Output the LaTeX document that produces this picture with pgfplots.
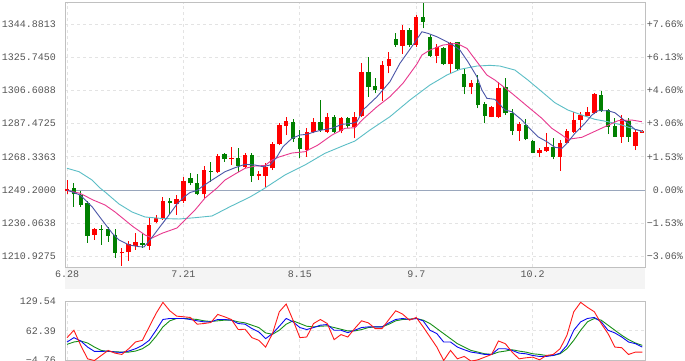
\documentclass[border=0pt]{standalone}
\usepackage{pgfplots}
\pgfplotsset{compat=1.18}
\usepackage{pgfplotstable}
\usepackage{fontspec}
\setmainfont{Liberation Mono}

\definecolor{kred}{HTML}{FF0000}
\definecolor{kgreen}{HTML}{008000}
\definecolor{maBlue}{HTML}{4A55A8}
\definecolor{maPink}{HTML}{E8388E}
\definecolor{maCyan}{HTML}{5BBEC6}
\definecolor{baseBlue}{HTML}{9AA7BD}
\definecolor{frameGray}{HTML}{C0C0C0}
\definecolor{gridGray}{HTML}{E3E3E3}
\definecolor{labelGray}{HTML}{555555}
\definecolor{bandGray}{HTML}{F4F4F4}
\definecolor{kdjRed}{HTML}{FF1A1A}
\definecolor{kdjBlue}{HTML}{0A0AF0}
\definecolor{kdjGreen}{HTML}{189018}

% rising candles (red): index open high low close
\pgfplotstableread{
i o h l c
0 1248.62 1254.96 1246.89 1249.49
4 1223.26 1227.01 1220.38 1226.72
8 1212.60 1215.48 1205.39 1213.46
9 1213.18 1219.80 1208.28 1218.07
10 1216.92 1224.41 1214.62 1219.23
12 1217.09 1233.06 1214.62 1229.03
13 1230.47 1234.79 1229.89 1233.23
14 1232.89 1244.88 1231.91 1242.69
16 1241.13 1246.32 1234.79 1243.84
17 1242.86 1256.69 1241.71 1254.56
20 1246.72 1263.03 1244.01 1260.73
22 1259.58 1270.24 1258.83 1268.80
24 1267.07 1274.16 1263.61 1267.82
26 1262.63 1270.35 1261.71 1269.37
28 1257.10 1260.15 1254.96 1258.25
29 1257.44 1264.59 1251.10 1262.63
30 1261.71 1276.69 1260.73 1275.54
31 1275.54 1287.65 1275.14 1286.67
32 1286.26 1291.45 1280.90 1288.97
35 1272.26 1284.76 1268.39 1282.80
36 1282.46 1290.53 1281.88 1288.22
38 1282.80 1293.41 1281.88 1291.10
40 1283.21 1291.45 1281.88 1290.53
42 1285.69 1294.16 1279.00 1291.10
43 1291.85 1322.23 1291.45 1317.39
46 1307.24 1323.73 1300.67 1321.25
47 1320.85 1328.92 1316.47 1324.71
49 1332.37 1344.31 1327.59 1341.42
51 1332.78 1350.07 1331.80 1348.74
54 1326.44 1333.35 1322.23 1331.45
56 1321.83 1334.68 1316.06 1334.10
59 1308.40 1312.60 1304.53 1311.05
62 1291.45 1297.62 1291.10 1297.21
63 1291.45 1311.62 1290.53 1307.82
66 1283.38 1288.57 1277.62 1287.07
69 1270.70 1273.24 1268.05 1272.26
70 1271.85 1282.23 1271.28 1273.81
72 1268.39 1278.02 1260.32 1276.12
73 1276.46 1284.19 1276.12 1283.21
74 1282.80 1294.33 1281.88 1289.55
75 1289.55 1294.33 1283.78 1292.43
76 1292.03 1297.21 1291.85 1294.33
77 1293.76 1304.94 1293.01 1304.53
81 1279.92 1292.43 1276.46 1289.95
83 1274.56 1283.78 1272.26 1282.80
84 1282.23 1283.78 1282.23 1283.38
}\upc

% falling candles (green): index open high low close
\pgfplotstableread{
i o h l c
1 1250.18 1253.41 1239.57 1246.72
2 1246.32 1248.62 1239.40 1240.55
3 1241.88 1242.57 1218.65 1222.69
5 1226.72 1229.03 1217.50 1226.14
6 1226.72 1227.87 1219.23 1222.69
7 1222.97 1226.72 1210.00 1212.89
11 1218.65 1224.41 1215.77 1217.50
15 1242.86 1244.30 1235.37 1241.53
18 1255.94 1258.83 1252.08 1253.06
19 1253.06 1258.42 1246.15 1246.72
21 1260.44 1265.34 1253.98 1259.86
23 1269.78 1270.35 1265.51 1267.07
25 1267.82 1273.24 1259.58 1263.21
27 1269.37 1270.35 1253.98 1257.44
33 1288.57 1289.95 1277.04 1278.60
34 1279.00 1283.78 1267.47 1272.83
37 1288.57 1301.08 1282.80 1283.78
39 1291.10 1292.43 1281.88 1282.80
41 1290.53 1291.10 1284.76 1286.26
44 1317.39 1326.03 1302.98 1308.40
45 1309.15 1313.58 1304.94 1306.84
48 1336.06 1339.52 1331.80 1332.78
50 1341.42 1342.40 1331.80 1332.78
52 1349.09 1357.16 1342.40 1346.21
53 1337.56 1338.54 1325.69 1326.44
55 1330.88 1331.80 1321.25 1321.83
57 1334.33 1334.68 1318.37 1318.94
58 1316.06 1319.35 1304.53 1308.40
60 1310.70 1315.49 1296.29 1298.19
61 1298.77 1300.10 1287.65 1291.85
64 1308.74 1313.58 1292.43 1293.41
65 1293.41 1295.72 1280.90 1283.38
67 1286.67 1289.95 1278.02 1278.60
68 1277.44 1278.02 1270.35 1270.70
71 1273.81 1279.00 1266.90 1268.39
78 1303.96 1306.44 1294.33 1294.91
79 1295.31 1295.72 1281.48 1285.69
80 1286.09 1290.53 1279.92 1279.92
82 1289.14 1290.53 1277.04 1279.92
}\downc

% MA5
\pgfplotstableread{
i v
0.00 1249.20
1.90 1246.32
3.65 1239.58
5.11 1231.91
6.57 1224.41
7.59 1220.38
9.05 1217.50
10.51 1216.52
11.24 1216.34
12.12 1220.38
13.43 1227.30
14.89 1234.79
16.06 1241.13
17.08 1245.17
17.96 1247.76
18.98 1248.91
19.71 1251.10
21.17 1254.96
23.07 1259.75
24.53 1262.05
25.99 1264.01
27.45 1263.61
28.61 1262.63
29.64 1263.61
30.66 1268.39
31.53 1274.16
32.85 1279.00
34.01 1280.90
35.04 1281.31
36.20 1282.80
37.23 1283.78
38.69 1284.76
40.15 1287.07
41.61 1287.65
42.34 1288.57
43.21 1295.31
45.26 1302.98
47.15 1311.62
48.61 1322.23
50.51 1332.78
51.82 1340.44
52.70 1339.52
54.01 1337.56
55.47 1334.68
56.35 1332.78
57.37 1329.90
58.54 1323.15
59.85 1314.51
60.58 1306.84
61.31 1302.05
62.48 1301.48
63.94 1295.31
64.96 1294.33
66.42 1289.55
67.30 1285.69
68.76 1279.92
70.07 1277.04
71.24 1273.81
72.26 1273.24
72.99 1276.12
74.16 1281.88
75.62 1287.65
76.64 1292.43
77.52 1294.91
78.98 1294.91
80.00 1293.76
81.02 1290.53
81.90 1287.65
82.92 1284.19
83.94 1283.21
}\maFive

% MA10
\pgfplotstableread{
i v
0.00 1248.91
1.90 1247.30
3.80 1243.44
5.55 1240.55
7.01 1236.52
9.64 1228.05
11.39 1223.26
12.41 1221.53
13.87 1224.24
16.06 1227.30
17.23 1231.91
18.69 1237.67
20.15 1244.59
21.90 1250.35
23.07 1254.96
24.53 1258.42
25.99 1261.71
27.45 1263.03
28.91 1263.32
29.93 1266.49
30.95 1268.22
32.85 1270.53
34.74 1271.28
36.64 1275.14
38.69 1280.90
40.58 1284.76
42.04 1285.11
43.21 1290.00
45.26 1297.21
47.15 1302.98
49.05 1310.70
51.09 1321.83
51.82 1327.01
52.99 1329.90
54.89 1332.78
56.93 1333.76
58.39 1330.88
59.85 1323.15
61.31 1315.49
62.48 1312.60
64.96 1304.94
67.30 1297.21
69.34 1290.53
70.80 1284.76
72.26 1280.90
73.14 1278.42
75.18 1279.58
76.64 1282.23
78.54 1285.69
80.44 1289.14
82.48 1289.55
83.94 1288.57
}\maTen

% MA20
\pgfplotstableread{
i v
0.00 1261.71
1.75 1259.75
3.65 1254.96
4.82 1250.35
5.55 1248.05
7.59 1241.13
9.49 1236.52
11.39 1233.64
13.87 1232.77
16.35 1232.48
18.69 1233.23
21.17 1234.21
23.80 1239.57
26.72 1245.17
28.61 1249.60
31.82 1257.85
34.74 1263.61
37.66 1270.35
40.58 1275.14
42.04 1277.44
44.23 1283.78
47.15 1291.45
50.07 1301.08
52.99 1309.72
55.47 1315.49
57.37 1318.77
59.85 1320.67
61.75 1321.08
63.21 1320.67
65.40 1318.37
67.30 1312.60
69.34 1305.86
71.24 1299.52
73.14 1295.31
75.18 1292.43
77.08 1289.95
78.98 1288.57
81.02 1286.67
82.92 1284.19
84.09 1282.80
}\maTwenty

% KDJ
\pgfplotstableread{
i K D J
0 37.0 31.7 46.8
1 46.8 37.0 63.5
2 39.3 39.3 29.4
3 25.6 34.7 -1.0
4 15.7 25.6 -4.8
5 15.7 18.0 6.6
6 16.5 15.7 18.0
7 14.2 15.0 11.9
8 13.5 14.2 8.9
9 16.5 14.2 21.8
10 21.8 16.5 37.0
11 29.4 21.8 40.8
12 40.8 31.7 71.1
13 63.5 49.9 101.5
14 87.8 71.1 126.5
15 90.1 84.8 107.5
16 90.1 90.1 95.4
17 90.1 90.1 93.9
18 87.8 89.3 92.4
19 84.8 87.8 77.2
20 82.5 84.8 78.7
21 82.5 83.3 81.0
22 87.8 84.8 99.2
23 87.8 86.3 93.9
24 86.3 86.3 87.8
25 78.7 82.5 65.1
26 77.2 80.2 65.8
27 67.3 74.9 46.8
28 59.7 69.6 40.8
29 44.6 57.5 25.6
30 56.0 54.4 56.0
31 72.6 63.5 105.3
32 90.1 77.2 122.7
33 82.5 84.8 86.3
34 69.6 78.7 46.8
35 65.1 72.6 48.3
36 69.6 71.1 78.7
37 74.9 72.6 87.8
38 76.4 73.4 78.7
39 63.5 69.6 42.3
40 63.5 65.8 53.7
41 58.2 62.0 48.3
42 63.5 62.0 67.3
43 69.6 65.0 84.8
44 71.1 69.6 80.2
45 71.1 71.1 67.3
46 71.1 71.1 67.3
47 80.2 77.2 87.8
48 87.8 84.8 107.5
49 90.1 87.8 99.9
50 87.8 88.6 86.3
51 90.1 90.1 92.4
52 84.8 86.3 71.1
53 63.5 78.7 48.3
54 55.9 67.3 25.6
55 37.0 55.9 -4.8
56 37.0 44.6 18.0
57 25.6 33.2 -1.0
58 19.5 25.6 4.4
59 14.2 18.0 -6.3
60 11.9 14.2 -3.2
61 8.9 10.4 2.8
62 8.9 8.9 8.9
63 21.8 14.2 39.3
64 21.8 16.5 33.2
65 18.0 19.5 14.2
66 11.9 16.5 -1.0
67 10.4 14.2 1.3
68 6.6 10.4 2.8
69 4.4 8.9 -3.2
70 4.4 6.6 6.6
71 6.6 6.6 8.9
72 11.9 10.4 21.8
73 29.4 21.8 52.2
74 63.5 40.8 105.3
75 82.5 63.5 126.5
76 90.1 82.5 115.1
77 92.4 90.1 105.3
78 82.5 86.3 78.7
79 63.5 74.9 56.0
80 57.5 63.5 25.6
81 48.3 52.2 24.1
82 37.0 42.3 8.9
83 33.2 34.7 14.2
84 25.6 29.4 14.2
}\kdj

\pgfplotsset{
  kstyle/.style={
    scale only axis,
    xmin=-0.3, xmax=84.4,
    axis line style={draw=frameGray, line width=0.8pt},
    major tick length=0pt,
    tick label style={font=\fontsize{10}{12}\selectfont, text=labelGray},
    major grid style={draw=gridGray, dash pattern=on 3pt off 3pt, line width=0.8pt},
  },
  wick/.style={draw=none, mark=none, forget plot,
    error bars/.cd, y dir=plus, y explicit, error mark=none,
    error bar style={draw=#1, solid, line width=0.9pt}},
  body/.style={draw=none, mark=none, forget plot,
    error bars/.cd, y dir=plus, y explicit, error mark=none,
    error bar style={draw=#1, solid, line width=4.4pt}},
}

\begin{document}
\begin{tikzpicture}
\path[use as bounding box, fill=white] (0pt,0pt) rectangle (685pt,361pt);
\fill[bandGray] (65pt,72pt) rectangle (645pt,93pt);

% main price panel
\begin{axis}[kstyle,
  at={(65pt,94pt)}, anchor=south west,
  width=580pt, height=264.3pt,
  ymin=1204.8, ymax=1357.2,
  grid=major,
  xtick={0,17,34,51,68},
  xticklabels={6.28,7.21,8.15,9.7,10.2},
  xticklabel style={anchor=north, yshift=-4pt, inner sep=0pt},
  ytick={1210.9275,1230.0638,1249.2,1268.3363,1287.4725,1306.6088,1325.7450,1344.8813},
  yticklabels={1210.9275,1230.0638,1249.2000,1268.3363,1287.4725,1306.6088,1325.7450,1344.8813},
  yticklabel style={anchor=east, xshift=-9pt, inner sep=0pt},
]
\addplot[baseBlue, line width=0.9pt, mark=none] coordinates {(-0.3,1249.2) (84.4,1249.2)};
\addplot[wick=kred] table[x=i, y=l, y error expr=\thisrow{h}-\thisrow{l}] \upc;
\addplot[wick=kgreen] table[x=i, y=l, y error expr=\thisrow{h}-\thisrow{l}] \downc;
\addplot[body=kred] table[x=i, y=o, y error expr={max(\thisrow{c}-\thisrow{o},0.5)}] \upc;
\addplot[body=kgreen] table[x=i, y=c, y error expr={max(\thisrow{o}-\thisrow{c},0.5)}] \downc;
\addplot[maCyan, line width=0.9pt, mark=none] table[x=i, y=v] \maTwenty;
\addplot[maPink, line width=0.9pt, mark=none] table[x=i, y=v] \maTen;
\addplot[maBlue, line width=0.9pt, mark=none] table[x=i, y=v] \maFive;
\end{axis}

% percent labels on the right
\begin{axis}[kstyle,
  at={(65pt,94pt)}, anchor=south west,
  width=580pt, height=264.3pt,
  ymin=1204.8, ymax=1357.2,
  axis x line=none, axis y line*=right,
  y axis line style={draw=none},
  ytick={1210.9275,1230.0638,1249.2,1268.3363,1287.4725,1306.6088,1325.7450,1344.8813},
  yticklabels={−3.06\%,−1.53\%,0.00\%,+1.53\%,+3.06\%,+4.60\%,+6.13\%,+7.66\%},
  yticklabel style={anchor=east, xshift=38pt, inner sep=0pt},
]
\addplot[draw=none, mark=none] coordinates {(0,1249.2)};
\end{axis}

% KDJ panel
\begin{axis}[kstyle,
  at={(65pt,0.5pt)}, anchor=south west,
  width=580pt, height=59.5pt,
  ymin=-4.76, ymax=129.54,
  grid=major,
  xtick={0,17,34,51,68}, xticklabels={},
  ytick={-4.76,62.39,129.54},
  yticklabels={−4.76,62.39,129.54},
  yticklabel style={anchor=east, xshift=-9pt, inner sep=0pt},
]
\addplot[kdjGreen, line width=0.9pt, mark=none] table[x=i, y=D] \kdj;
\addplot[kdjBlue, line width=0.9pt, mark=none] table[x=i, y=K] \kdj;
\addplot[kdjRed, line width=0.9pt, mark=none] table[x=i, y=J] \kdj;
\end{axis}
\end{tikzpicture}
\end{document}
